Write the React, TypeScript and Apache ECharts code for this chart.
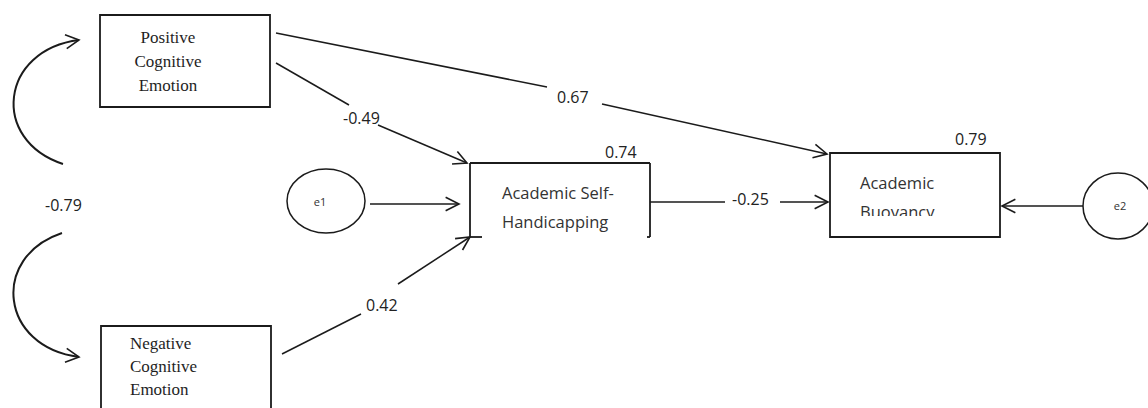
import React, { useEffect, useRef } from "react";
import * as echarts from "echarts";

// ---- data ----
const constructs = [
  "Positive Cognitive Emotion",
  "Negative Cognitive Emotion",
  "Academic Self-Handicapping",
  "Academic Buoyancy",
];
const constructLines: string[][] = [
  ["Positive", "Cognitive", "Emotion"],
  ["Negative", "Cognitive", "Emotion"],
  ["Academic Self-", "Handicapping"],
  ["Academic", "Buoyancy"],
];
const errorTerms = ["e1", "e2"];
const pathFrom = [0, 0, 1, 2];
const pathTo = [2, 3, 2, 3];
const pathCoefficients = ["-0.49", "0.67", "0.42", "-0.25"];
const rSquared = ["0.74", "0.79"]; // for constructs 2 and 3
const covariance = ["-0.79"];

// ---- layout (positions / styles only) ----
const INK = "#1b1b1b";
const SERIF = "'Liberation Serif', 'Times New Roman', serif";
const SANS = "'Open Sans', 'Noto Sans', sans-serif";

type P = [number, number];

const boxLayout = [
  { x: 100, y: 15, w: 170, h: 92, font: SERIF, size: 17, align: "center", tx: 168, ty: [37, 61, 85] },
  { x: 101, y: 326, w: 170, h: 100, font: SERIF, size: 17, align: "left", tx: 130, ty: [343, 366, 389] },
  { x: 470, y: 163, w: 180, h: 74, font: SANS, size: 16.5, align: "left", tx: 502, ty: [192, 221] },
  { x: 830, y: 153, w: 170, h: 84, font: SANS, size: 16.5, align: "left", tx: 860, ty: [182, 211] },
];

const errorLayout = [
  { cx: 326, cy: 201, rx: 39, ry: 32, tx: 320, ty: 201, from: [370, 204] as P, tip: [459, 204] as P },
  { cx: 1118, cy: 206, rx: 35, ry: 33, tx: 1120, ty: 205, from: [1083, 206] as P, tip: [1002, 206] as P },
];

// segments of each path: [start of first seg, end of first seg], [start of second seg, arrow tip]
const pathLayout: { a: [P, P]; b: [P, P]; label: P }[] = [
  { a: [[276, 63], [349, 105]], b: [[378, 125], [467, 163]], label: [343, 118] },
  { a: [[276, 33], [547, 87]], b: [[602, 104], [827, 154]], label: [557, 97] },
  { a: [[282, 354], [361, 314]], b: [[398, 284], [470, 237]], label: [366, 305] },
  { a: [[650, 202], [725, 202]], b: [[780, 202], [828, 202]], label: [732, 199] },
];

const r2Layout: P[] = [[605, 152], [955, 139]];
const covLayout = {
  label: [45, 205] as P,
  top: { s: [63, 164] as P, c1: [-10, 140] as P, c2: [0, 50] as P, tip: [79, 40] as P },
  bottom: { s: [62, 233] as P, c1: [-10, 257] as P, c2: [0, 347] as P, tip: [79, 357] as P },
};

function arrowHead(from: P, tip: P, len = 15, ang = 27): any {
  const dx = from[0] - tip[0];
  const dy = from[1] - tip[1];
  const base = Math.atan2(dy, dx);
  const a = (ang * Math.PI) / 180;
  const p1: P = [tip[0] + len * Math.cos(base + a), tip[1] + len * Math.sin(base + a)];
  const p2: P = [tip[0] + len * Math.cos(base - a), tip[1] + len * Math.sin(base - a)];
  return {
    type: "polyline",
    shape: { points: [p1, tip, p2] },
    style: { stroke: INK, lineWidth: 1.6, fill: null },
    z: 5,
  };
}

function line(p: P, q: P, w = 1.5): any {
  return {
    type: "line",
    shape: { x1: p[0], y1: p[1], x2: q[0], y2: q[1] },
    style: { stroke: INK, lineWidth: w },
    z: 4,
  };
}

function numText(text: string, p: P): any {
  return {
    type: "text",
    style: {
      text,
      x: p[0],
      y: p[1],
      fill: "#222",
      font: `16px ${SANS}`,
      align: "left",
      verticalAlign: "middle",
    },
    z: 6,
  };
}

function buildGraphic(): any[] {
  const els: any[] = [];
  els.push({ type: "rect", shape: { x: 0, y: 0, width: 1148, height: 408 }, style: { fill: "#fff" }, z: 0 });

  // construct boxes
  constructs.forEach((name, i) => {
    const b = boxLayout[i];
    if (i === 2) {
      // partially drawn box
      els.push(line([b.x, b.y], [b.x + b.w, b.y], 1.8));
      els.push(line([b.x, b.y], [b.x, b.y + b.h], 1.8));
      els.push(line([b.x + b.w, b.y], [b.x + b.w, b.y + b.h], 1.8));
      els.push(line([b.x, b.y + b.h], [b.x + 12, b.y + b.h], 1.8));
      els.push(line([b.x + b.w - 3, b.y + b.h], [b.x + b.w, b.y + b.h], 1.8));
    } else {
      els.push({
        type: "rect",
        shape: { x: b.x, y: b.y, width: b.w, height: b.h },
        style: { stroke: INK, lineWidth: 1.8, fill: "#fff" },
        z: 3,
        name,
      });
    }
    constructLines[i].forEach((t, k) => {
      els.push({
        type: "text",
        style: {
          text: t,
          x: b.tx,
          y: b.ty[k],
          fill: b.font === SERIF ? "#1e1e1e" : "#333",
          font: `${b.size}px ${b.font}`,
          align: b.align,
          verticalAlign: "middle",
        },
        z: 6,
      });
    });
  });
  // mask that clips the second line of the Academic Buoyancy label
  els.push({ type: "rect", shape: { x: 836, y: 216, width: 158, height: 18 }, style: { fill: "#fff" }, z: 7 });

  // paths
  pathCoefficients.forEach((c, i) => {
    const l = pathLayout[i];
    els.push(line(l.a[0], l.a[1]));
    els.push(line(l.b[0], l.b[1]));
    els.push(arrowHead(l.b[0], l.b[1]));
    els.push(numText(c, l.label));
  });

  // R squared
  rSquared.forEach((r, i) => els.push(numText(r, r2Layout[i])));

  // error terms
  errorTerms.forEach((e, i) => {
    const l = errorLayout[i];
    els.push({
      type: "ellipse",
      shape: { cx: l.cx, cy: l.cy, rx: l.rx, ry: l.ry },
      style: { stroke: INK, lineWidth: 1.5, fill: "#fff" },
      z: 3,
    });
    els.push({
      type: "text",
      style: { text: e, x: l.tx, y: l.ty, fill: "#333", font: `11px ${SANS}`, align: "center", verticalAlign: "middle" },
      z: 6,
    });
    els.push(line(l.from, l.tip));
    els.push(arrowHead(l.from, l.tip));
  });

  // covariance
  [covLayout.top, covLayout.bottom].forEach((c) => {
    els.push({
      type: "bezierCurve",
      shape: {
        x1: c.s[0], y1: c.s[1], cpx1: c.c1[0], cpy1: c.c1[1], cpx2: c.c2[0], cpy2: c.c2[1], x2: c.tip[0], y2: c.tip[1],
      },
      style: { stroke: INK, lineWidth: 2, fill: null },
      z: 4,
    });
    els.push(arrowHead([c.c2[0], c.c2[1]] as P, c.tip, 15, 28));
  });
  els.push(numText(covariance[0], covLayout.label));
  return els;
}

export default function App() {
  const ref = useRef<HTMLDivElement>(null);
  useEffect(() => {
    if (!ref.current) return;
    const chart = echarts.init(ref.current, null, { renderer: "svg" });
    chart.setOption({
      animation: false,
      backgroundColor: "#fff",
      graphic: { elements: buildGraphic() },
    });
    return () => chart.dispose();
  }, []);
  return (
    <div
      ref={ref}
      style={{ position: "absolute", left: 0, top: 0, width: 1148, height: 408, background: "#fff" }}
    />
  );
}
